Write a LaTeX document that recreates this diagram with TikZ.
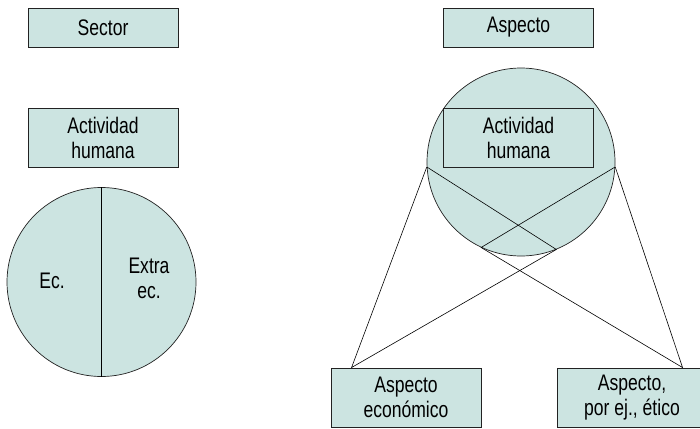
\documentclass[tikz,border=0pt]{standalone}
\usepackage{fontspec}
\setmainfont{Liberation Sans}[FakeStretch=0.78]
\definecolor{boxfill}{HTML}{CCE4E1}
\definecolor{linecol}{HTML}{222222}
\begin{document}
\begin{tikzpicture}[x=1pt,y=-1pt,
  lbl/.style={font=\fontsize{22.5}{25}\selectfont, align=center, text=black},
  tbox/.style={draw=linecol, line width=0.9pt, fill=boxfill, inner sep=0pt,
    minimum width=150pt, minimum height=39pt, lbl},
  tbox2/.style={tbox, minimum height=59pt},
  bigc/.style={circle, draw=linecol, line width=0.7pt, fill=boxfill, inner sep=0pt, minimum size=188pt},
  conn/.style={draw=black, line width=0.6pt}]
\useasboundingbox (0,0) rectangle (700,428);
\clip (0,0) rectangle (700,428);
% left column
\node[tbox] (sector) at (103,27.5) {Sector};
\node[tbox2] (act1) at (103,138) {Actividad\\humana};
\node[bigc, minimum size=189pt] (lc) at (101.5,282) {};
\draw[conn] (lc.north) -- (lc.south);
\node[lbl] (ec) at (52,281) {Ec.};
\node[lbl] (extra) at (149,278) {Extra\\ec.};
% right column
\node[tbox] (aspecto) at (518.5,27.5) {Aspecto};
\node[bigc] (rc) at (521,162) {};
\node[tbox2, fill=none] (act2) at (518.5,138) {Actividad\\humana};
\node[tbox2] (econ) at (406,397.5) {Aspecto\\económico};
\node[tbox2] (etico) at (632,397.5) {Aspecto,\\por ej., ético};
\coordinate (L) at (rc.183.7);
\coordinate (R) at (rc.-3.7);
\coordinate (P2) at (rc.245.6);
\coordinate (P1) at (rc.292.7);
\coordinate (A) at ([xshift=21pt]econ.north west);
\coordinate (B) at ([xshift=126pt]etico.north west);
\draw[conn] (L) -- (P1) -- (A) -- (L);
\draw[conn] (R) -- (P2) -- (B) -- (R);
\end{tikzpicture}
\end{document}
